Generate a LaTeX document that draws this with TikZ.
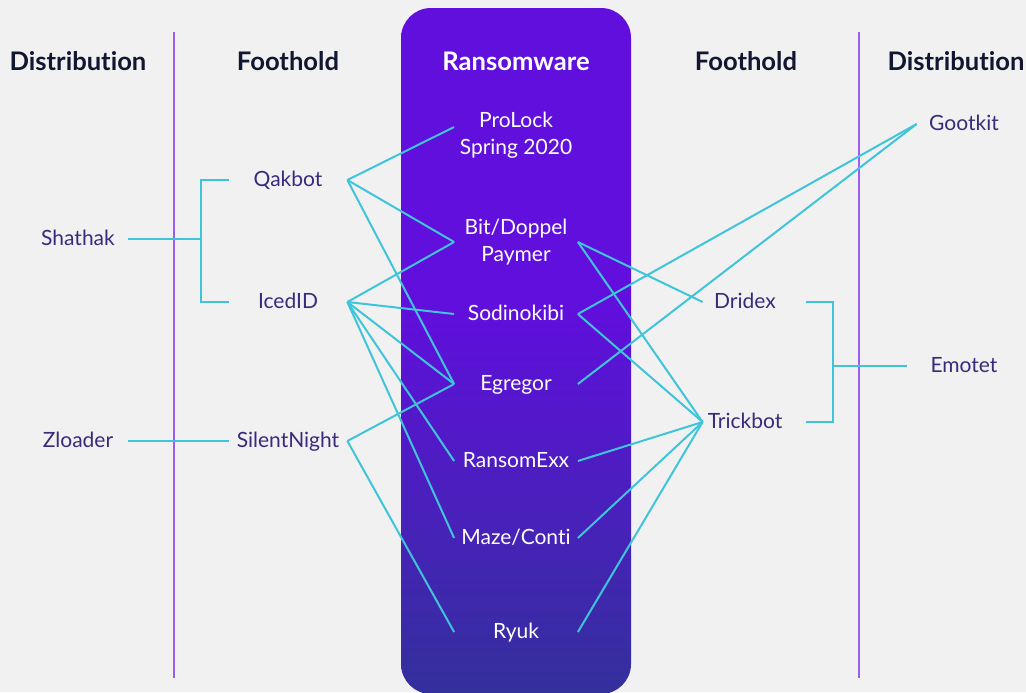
\documentclass[tikz,border=0pt]{standalone}
\usepackage{fontspec}
\setmainfont{Lato}[Ligatures=NoCommon]
\definecolor{bgc}{HTML}{F1F1F1}
\definecolor{headc}{HTML}{111631}
\definecolor{labc}{HTML}{3B2A7C}
\definecolor{linkc}{HTML}{40C4DA}
\definecolor{sepc}{HTML}{9B5CF2}
\definecolor{rwtop}{HTML}{600FDC}
\definecolor{rwbot}{HTML}{33309C}
\pgfdeclareverticalshading{rwshade}{100bp}{color(0bp)=(rwbot); color(25bp)=(rwbot); color(53bp)=(rwtop); color(100bp)=(rwtop)}
\begin{document}
\begin{tikzpicture}[x=0.5pt, y=-0.5pt,
		head/.style={font=\bfseries\fontsize{12.8}{15}\selectfont, text=headc},
		lab/.style={font=\fontsize{10.5}{13.5}\selectfont, inner sep=0pt},
		fix/.style={text height=8pt, text depth=2pt},
		dist/.style={lab, fix, text=labc, minimum width=50pt},
		foot/.style={lab, fix, text=labc, minimum width=59pt},
		rfoot/.style={lab, fix, text=labc, minimum width=42pt},
		rdist/.style={lab, fix, text=labc, minimum width=47pt},
		rw/.style={lab, text=white, minimum width=61.5pt, align=center},
		link/.style={draw=linkc, line width=1pt},
		sep/.style={draw=sepc, line width=0.7pt}]
	\clip (0,0) rectangle (1026,692);
	\fill[bgc] (0,0) rectangle (1026,692);
	\shade[shading=rwshade, rounded corners=15pt] (401,8) rectangle (631,694);
	\draw[sep] (174,32) -- (174,678);
	\draw[sep] (859,32) -- (859,678);

	\node (hdistl) at (78,61) [head] {Distribution};
	\node (hfootl) at (288,61) [head] {Foothold};
	\node (hrw) at (516,61) [head, text=white] {Ransomware};
	\node (hfootr) at (746,61) [head] {Foothold};
	\node (hdistr) at (956,61) [head] {Distribution};

	\node (shathak) at (78,239) [dist] {Shathak};
	\node (zloader) at (78,441) [dist] {Zloader};
	\node (qakbot) at (288,180) [foot] {Qakbot};
	\node (icedid) at (288,302) [foot] {IcedID};
	\node (silent) at (288,441) [foot] {SilentNight};

	\node (prolock) at (516,135) [rw] {ProLock\\Spring 2020};
	\node (doppel) at (516,242) [rw] {Bit/Doppel\\Paymer};
	\node (sodin) at (516,314) [rw, fix] {Sodinokibi};
	\node (egregor) at (516,384) [rw, fix] {Egregor};
	\node (ransomexx) at (516,461) [rw, fix] {RansomExx};
	\node (maze) at (516,538) [rw, fix] {Maze/Conti};
	\node (ryuk) at (516,632) [rw, fix] {Ryuk};

	\node (dridex) at (745,302) [rfoot] {Dridex};
	\node (trickbot) at (745,422) [rfoot] {Trickbot};
	\node (gootkit) at (964,124) [rdist] {Gootkit};
	\node (emotet) at (964,366) [rdist] {Emotet};

	\draw[link] (shathak.east) -- ++(73,0) coordinate (lj);
	\draw[link] (qakbot.west) -| (lj) |- (icedid.west);
	\draw[link] (zloader) -- (silent);
	\draw[link] (emotet.west) ++(-10,0) -- ++(-74,0) coordinate (rj);
	\draw[link] ([xshift=9.5pt]dridex.east) -| (rj) |- ([xshift=9.5pt]trickbot.east);

	\draw[link] (qakbot.east) -- ([yshift=4pt]prolock.west);
	\foreach \r in {doppel, egregor}
		\draw[link] (qakbot.east) -- (\r.west);
	\foreach \r in {doppel, sodin, egregor, ransomexx, maze}
		\draw[link] (icedid.east) -- (\r.west);
	\foreach \r in {egregor, ryuk}
		\draw[link] (silent.east) -- (\r.west);
	\foreach \r in {sodin, egregor}
		\draw[link] (gootkit.west) -- (\r.east);
	\draw[link] (dridex.west) -- (doppel.east);
	\foreach \r in {doppel, sodin, ransomexx, maze, ryuk}
		\draw[link] (trickbot.west) -- (\r.east);
\end{tikzpicture}
\end{document}
